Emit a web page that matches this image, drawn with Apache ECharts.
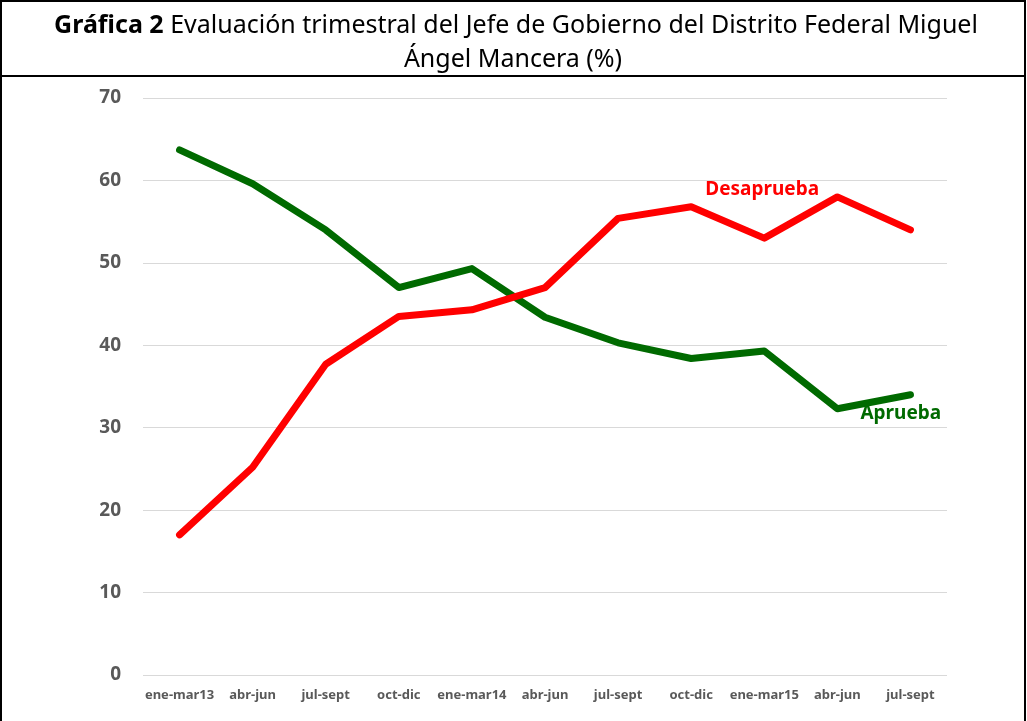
<!DOCTYPE html>
<html>
<head>
<meta charset="utf-8">
<script src="https://cdn.jsdelivr.net/npm/echarts@6/dist/echarts.min.js"></script>
<style>
  html, body { margin: 0; padding: 0; background: #fff; }
  #chart { width: 1027px; height: 721px; }
</style>
</head>
<body>
<div id="chart"></div>
<script>
const periodos = ['ene-mar13', 'abr-jun', 'jul-sept', 'oct-dic', 'ene-mar14', 'abr-jun', 'jul-sept', 'oct-dic', 'ene-mar15', 'abr-jun', 'jul-sept']
const aprueba = [63.7, 59.6, 54.0, 47.0, 49.3, 43.4, 40.3, 38.4, 39.3, 32.3, 34.0]
const desaprueba = [17.0, 25.2, 37.7, 43.5, 44.3, 47.0, 55.4, 56.8, 53.0, 58.0, 54.0]
const yTicks = [0, 10, 20, 30, 40, 50, 60, 70]

const font = '"Noto Sans", sans-serif'
const chart = echarts.init(document.getElementById('chart'))

const option = {
  backgroundColor: '#ffffff',
  animation: false,
  grid: {
    left: 143,
    right: 80,
    top: 98,
    bottom: 46,
  },
  xAxis: {
    type: 'category',
    data: periodos,
    boundaryGap: true,
    axisLine: { show: false },
    axisTick: { show: false },
    axisLabel: {
      interval: 0,
      margin: 14,
      color: '#595959',
      fontFamily: font,
      fontWeight: 'bold',
      fontSize: 13,
    },
  },
  yAxis: {
    type: 'value',
    min: yTicks[0],
    max: yTicks[yTicks.length - 1],
    interval: 10,
    axisLine: { show: false },
    axisTick: { show: false },
    splitLine: { lineStyle: { color: '#d9d9d9', width: 1 } },
    axisLabel: {
      margin: 22,
      color: '#595959',
      fontFamily: font,
      fontWeight: 'bold',
      fontSize: 19,
    },
  },
  series: [
    {
      name: 'Aprueba',
      type: 'line',
      data: aprueba,
      symbol: 'none',
      lineStyle: { color: '#006a00', width: 7, cap: 'round', join: 'round' },
      endLabel: {
        show: true,
        formatter: 'Aprueba',
        offset: [-58, 19],
        color: '#006a00',
        fontFamily: font,
        fontWeight: 'bold',
        fontSize: 19,
      },
    },
    {
      name: 'Desaprueba',
      type: 'line',
      data: desaprueba,
      symbol: 'none',
      lineStyle: { color: '#ff0000', width: 7, cap: 'round', join: 'round' },
      markPoint: {
        symbol: 'circle',
        symbolSize: 1,
        itemStyle: { color: 'rgba(0,0,0,0)' },
        data: [{ coord: [7, desaprueba[7]] }],
        label: {
          show: true,
          position: 'inside',
          formatter: 'Desaprueba',
          offset: [71, -17],
          color: '#ff0000',
          fontFamily: font,
          fontWeight: 'bold',
          fontSize: 19,
        },
      },
    },
  ],
  graphic: [
    {
      type: 'rect',
      shape: { x: 1, y: 1, width: 1024, height: 730 },
      style: { fill: 'none', stroke: '#000', lineWidth: 2 },
      silent: true,
    },
    {
      type: 'line',
      shape: { x1: 1, y1: 76, x2: 1025, y2: 76 },
      style: { stroke: '#000', lineWidth: 2 },
      silent: true,
    },
    {
      type: 'text',
      x: 516,
      y: 26,
      style: {
        text: '{b|Gráfica 2} Evaluación trimestral del Jefe de Gobierno del Distrito Federal Miguel',
        align: 'center',
        verticalAlign: 'middle',
        font: '25px ' + font,
        fill: '#000',
        rich: {
          b: { fontFamily: font, fontSize: 25, fontWeight: 'bold', fill: '#000' },
        },
      },
      silent: true,
    },
    {
      type: 'text',
      x: 513,
      y: 60,
      style: {
        text: 'Ángel Mancera (%)',
        align: 'center',
        verticalAlign: 'middle',
        font: '25px ' + font,
        fill: '#000',
      },
      silent: true,
    },
  ],
}

chart.setOption(option)
</script>
</body>
</html>
